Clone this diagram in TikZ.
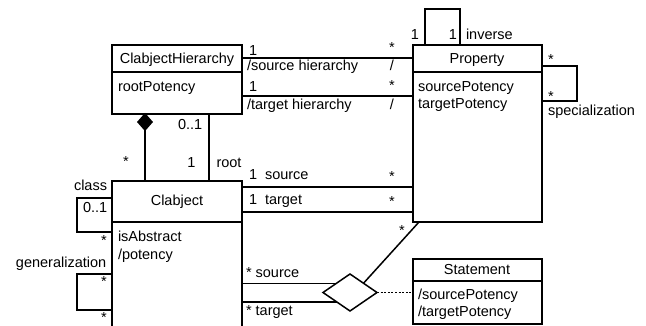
\documentclass[tikz,border=0pt]{standalone}
\usepackage{fontspec}
\setmainfont{Liberation Sans}
\usetikzlibrary{shapes.geometric,calc}
\tikzset{
  umlbox/.style={draw, rectangle, inner sep=0pt, outer sep=0pt, anchor=north west},
  txt/.style={inner sep=0pt, outer sep=0pt, anchor=base west, font=\fontsize{14.5}{17}\selectfont},
  ctxt/.style={txt, anchor=base},
  star/.style={txt, anchor=base},
  conn/.style={line width=1.5pt},
  dotconn/.style={line width=1.3pt, dash pattern=on 2pt off 1.6pt},
}
\begin{document}
\begin{tikzpicture}[x=1pt, y=-1pt, line width=1.5pt]
\useasboundingbox (0,0) rectangle (646,326);
% class boxes
\node[umlbox, minimum width=130pt, minimum height=69pt] (CH) at (112,45) {};
\node[umlbox, minimum width=129pt, minimum height=177pt] (P) at (413,45) {};
\node[umlbox, minimum width=130pt, minimum height=146pt] (C) at (112,181) {};
\node[umlbox, minimum width=129pt, minimum height=65pt] (S) at (413,259) {};
% dividers
\draw ($(CH.north west)+(0,27)$) -- ($(CH.north east)+(0,27)$);
\draw ($(P.north west)+(0,27)$) -- ($(P.north east)+(0,27)$);
\draw ($(C.north west)+(0,41)$) -- ($(C.north east)+(0,41)$);
\draw ($(S.north west)+(0,22)$) -- ($(S.north east)+(0,22)$);
% class texts
\node[ctxt] (chname) at (177,64) {ClabjectHierarchy};
\node[txt] (chattr) at (118,92) {rootPotency};
\node[ctxt] (pname) at (477,63.5) {Property};
\node[txt] (pattr1) at (418,92) {sourcePotency};
\node[txt] (pattr2) at (418,109) {targetPotency};
\node[ctxt] (cname) at (177,206) {Clabject};
\node[txt] (cattr1) at (118,242) {isAbstract};
\node[txt] (cattr2) at (118,259.5) {/potency};
\node[ctxt] (sname) at (477,275) {Statement};
\node[txt] (sattr1) at (418,299) {/sourcePotency};
\node[txt] (sattr2) at (418,316.5) {/targetPotency};
% ClabjectHierarchy -- Property
\coordinate (h1) at ($(CH.north east)+(0,13)$);
\coordinate (h2) at ($(CH.north east)+(0,51)$);
\draw[conn] (h1) -- (h1 -| P.west);
\draw[conn] (h2) -- (h2 -| P.west);
% inverse loop
\draw[conn] ($(P.north west)+(12,0)$) -- ++(0,-36) -| ($(P.north west)+(47,0)$);
% specialization loop
\draw[conn] ($(P.north east)+(0,21)$) -- ++(35,0) |- ($(P.north east)+(0,56)$);
% composition
\node[draw, fill=black, diamond, inner sep=0pt, outer sep=0pt, minimum width=14pt, minimum height=16pt] (comp) at (145,122) {};
\draw[conn] (comp.south) -- (comp.south |- C.north);
% root
\draw[conn] ($(CH.south west)+(97,0)$) -- ($(C.north west)+(97,0)$);
% Clabject -- Property
\coordinate (c1) at ($(C.north east)+(0,6)$);
\coordinate (c2) at ($(C.north east)+(0,31)$);
\draw[conn] (c1) -- (c1 -| P.west);
\draw[conn] (c2) -- (c2 -| P.west);
% class loop
\draw[conn] ($(C.north west)+(0,17)$) -- ++(-35,0) |- ($(C.north west)+(0,51)$);
% generalization loop
\draw[conn] ($(C.north west)+(0,93)$) -- ++(-35,0) |- ($(C.north west)+(0,129)$);
% association diamond
\node[draw, fill=white, diamond, inner sep=0pt, outer sep=0pt, minimum width=54pt, minimum height=37pt] (assoc) at (350,292.5) {};
\coordinate (a1) at (C.east |- assoc.north west);
\coordinate (a2) at (C.east |- assoc.south west);
\draw[conn] (a1) -- (assoc.north west);
\draw[conn] (a2) -- (assoc.south west);
\draw[conn] (assoc.north east) -- ($(P.south west)+(6,0)$);
\draw[dotconn] (assoc.east) -- (assoc.east -| S.west);
% labels
\node[txt] (l1) at (249,56) {1};
\node[txt] (l2) at (247,70.5) {/source hierarchy};
\node[txt] (l3) at (249,92) {1};
\node[txt] (l4) at (247,110) {/target hierarchy};
\node[star] (l5) at (392,53) {*};
\node[ctxt] (l6) at (392,71) {/};
\node[star] (l7) at (392,91) {*};
\node[ctxt] (l8) at (392,110) {/};
\node[ctxt] (l9) at (415,40) {1};
\node[ctxt] (l10) at (453,40) {1};
\node[txt] (l11) at (466,40) {inverse};
\node[star] (l12) at (551,65) {*};
\node[star] (l13) at (551,102) {*};
\node[txt] (l14) at (548,116) {specialization};
\node[txt] (l15) at (178,130) {0..1};
\node[star] (l16) at (126,167) {*};
\node[ctxt] (l17) at (191.5,168) {1};
\node[txt] (l18) at (216.5,168) {root};
\node[txt] (l19) at (249,180) {1};
\node[txt] (l20) at (265,180) {source};
\node[txt] (l21) at (249,205) {1};
\node[txt] (l22) at (265,205) {target};
\node[star] (l23) at (392,182) {*};
\node[star] (l24) at (392,207) {*};
\node[star] (l25) at (402,236) {*};
\node[txt] (l26) at (74,190.5) {class};
\node[txt] (l27) at (83,213) {0..1};
\node[star] (l28) at (104,246) {*};
\node[txt] (l29) at (16,267) {generalization};
\node[star] (l30) at (104,287) {*};
\node[star] (l31) at (104,323) {*};
\node[txt] (l32) at (246,277) {* source};
\node[txt] (l33) at (246,316) {* target};
\end{tikzpicture}
\end{document}
